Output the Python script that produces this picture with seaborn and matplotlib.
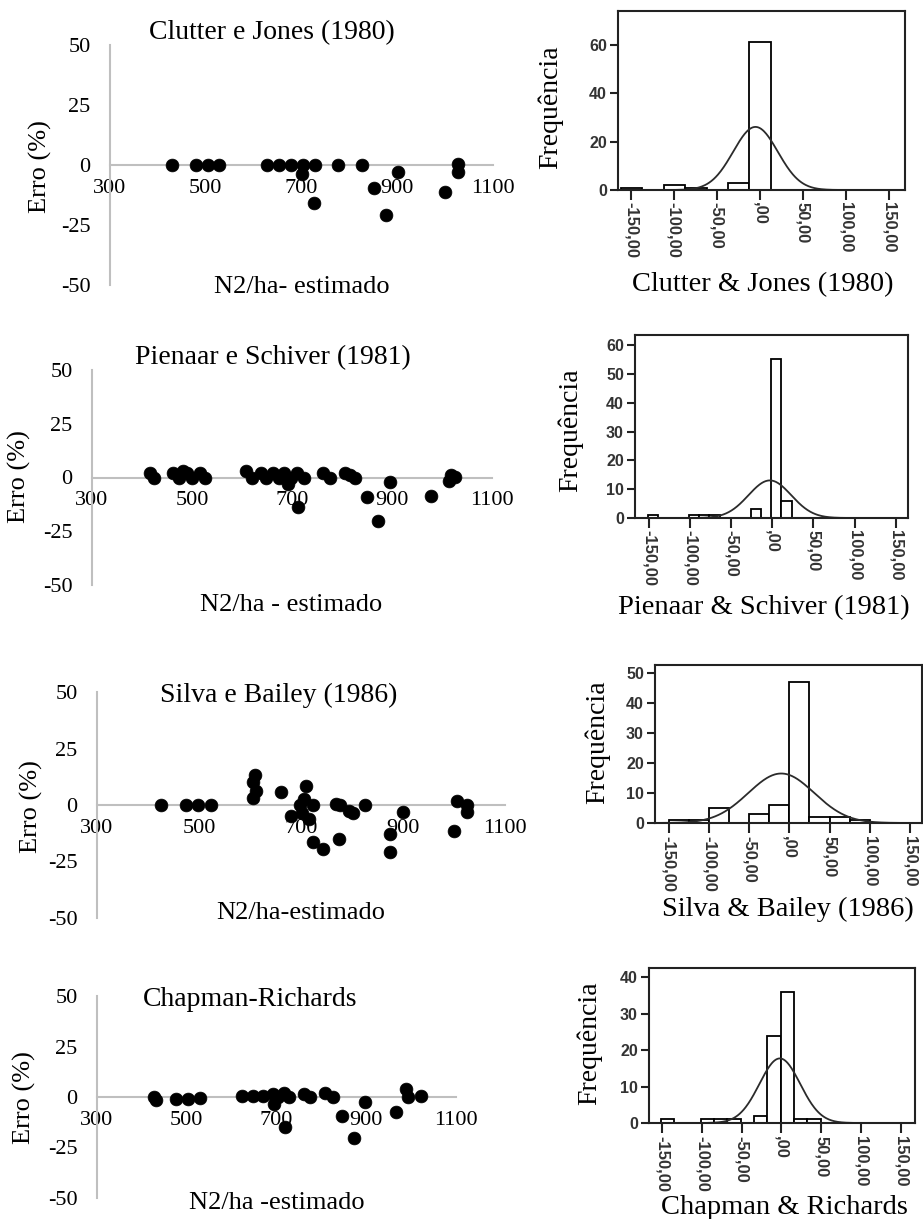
import numpy as np
import pandas as pd
import matplotlib
matplotlib.use("Agg")
import matplotlib.pyplot as plt
import seaborn as sns

W, H = 923, 1219

# ---- residual scatter data (N2/ha estimado, erro %) ----
CJ_X = [430, 479, 504, 528, 627, 653, 678, 703, 702, 728, 726, 777, 827, 852, 876, 902, 1000, 1026, 1026]
CJ_Y = [0, 0, 0, 0, 0, 0, 0, 0, -3.8, 0, -16, 0, 0, -9.7, -20.8, -2.8, -11.1, 0.3, -2.8]

PS_X = [415, 424, 462, 473, 482, 490, 500, 515, 525, 607, 620, 637, 647, 662, 673, 683, 691, 697,
        710, 712, 723, 762, 775, 805, 815, 825, 849, 872, 895, 978, 1013, 1017, 1025]
PS_Y = [2.3, 0, 1.9, 0, 3.1, 1.9, 0, 1.9, 0, 3.1, 0, 1.9, 0, 1.9, 0, 1.9, -2.8, 0,
        1.9, -13.9, 0, 1.9, 0, 2.3, 1.2, 0, -9.3, -20, -2.3, -8.5, -1.5, 1.2, 0.3]

SB_X = [426, 475, 499, 524, 605, 605, 610, 612, 661, 681, 698, 702, 705, 709, 716, 724, 723, 743,
        768, 775, 776, 794, 801, 825, 874, 875, 900, 1000, 1005, 1025, 1026]
SB_Y = [0, 0, 0, 0, 3, 10.1, 13.1, 6, 5.7, -4.8, 0, -3.7, 2.7, 8.3, -6.3, 0, -16.2, -19.6,
        0.4, -15.2, 0, -2.5, -3.7, 0, -13, -20.8, -3, -11.5, 1.9, 0, -3]

CR_X = [426, 432, 477, 503, 529, 624, 648, 670, 693, 694, 704, 716, 718, 728, 761, 774, 807, 825,
        847, 873, 898, 966, 988, 994, 1021]
CR_Y = [0, -1.7, -0.8, -0.8, -0.3, 0.5, 0.5, 0.5, 1.3, -3.3, 0, 2, -15, 0, 1.7, 0, 2, 0,
        -9.5, -20.5, -2.5, -7.5, 4.2, 0, 0.5]

SCATTER_TITLES = ["Clutter e Jones (1980)", "Pienaar e Schiver (1981)",
                  "Silva e Bailey (1986)", "Chapman-Richards"]
SCATTER_XLABELS = ["N2/ha- estimado", "N2/ha - estimado", "N2/ha-estimado", "N2/ha -estimado"]
X_TICKS = [300, 500, 700, 900, 1100]
Y_TICKS = [-50, -25, 0, 25, 50]

# ---- error histograms (bin start, bin width, counts) + normal fit ----
HIST_START = [-162, -151.5, -150, -151.75]
HIST_WIDTH = [25, 12.5, 25, 16.75]
HIST_COUNTS = [
    [1, 0, 2, 1, 0, 3, 61],
    [1, 0, 0, 0, 1, 1, 1, 0, 0, 0, 3, 0, 55, 6],
    [1, 1, 5, 0, 3, 6, 47, 2, 2, 1],
    [1, 0, 0, 1, 1, 1, 0, 2, 24, 36, 1, 1],
]
FIT_MEAN = [-5, -3, -10, -2]
FIT_SD = [26, 26, 41, 25.6]
HIST_YMAX = [74, 63.5, 52.8, 42.6]
HIST_YTICKS = [[0, 20, 40, 60], [0, 10, 20, 30, 40, 50, 60],
               [0, 10, 20, 30, 40, 50], [0, 10, 20, 30, 40]]
HIST_XTICKS = [-150, -100, -50, 0, 50, 100, 150]
HIST_XTICKLABELS = ["-150,00", "-100,00", "-50,00", ",00", "50,00", "100,00", "150,00"]
HIST_CAPTIONS = ["Clutter & Jones (1980)", "Pienaar & Schiver (1981)",
                 "Silva & Bailey (1986)", "Chapman & Richards"]

# layout in pixels (x0, y0, x1, y1)
SC_BOX = [(110, 45, 493, 285), (92, 370, 492, 585), (97, 692, 505, 918), (97, 996, 456, 1198)]
SC_TITLE_POS = [(272, 33), (273, 358), (279, 695), (250, 1000)]
SC_XLAB_POS = [(302, 287), (291, 605), (301, 913), (277, 1203)]
SC_YLAB_POS = [(40, 167), (19, 477), (31, 807), (24, 1098)]
HI_BOX = [(618, 11, 905, 190), (635, 335, 908, 518), (655, 665, 922, 823), (649, 968, 915, 1123)]
HI_XLIM = [(-165, 169), (-167, 165), (-167, 165), (-166.5, 168)]
HI_CAP_POS = [(763, 285), (764, 608), (788, 909), (784, 1207)]
HI_YLAB_POS = [(550, 107), (570, 430), (597, 742), (589, 1043)]

sns.set_theme(style="white")
plt.rcParams["font.family"] = ["Liberation Serif", "DejaVu Serif"]
plt.rcParams["axes.unicode_minus"] = False
plt.rcParams["text.color"] = "black"

GRAY = "#bfbfbf"
SANS = ["Liberation Sans", "DejaVu Sans"]


def add_px_axes(fig, box):
    x0, y0, x1, y1 = box
    return fig.add_axes([x0 / W, 1 - y1 / H, (x1 - x0) / W, (y1 - y0) / H])


def px_text(fig, pos, s, **kw):
    fig.text(pos[0] / W, 1 - pos[1] / H, s, ha="center", va="center", color="black", **kw)


def draw_scatter(ax, xs, ys):
    sns.scatterplot(x=xs, y=ys, ax=ax, color="black", s=85, edgecolor="black",
                    linewidth=0.5, zorder=3, clip_on=False)
    ax.set_xlim(300, 1100)
    ax.set_ylim(-50, 50)
    ax.set_xticks(X_TICKS)
    ax.set_yticks(Y_TICKS)
    for side in ["top", "right"]:
        ax.spines[side].set_visible(False)
    ax.spines["bottom"].set_position(("data", 0))
    for side in ["left", "bottom"]:
        ax.spines[side].set_color(GRAY)
        ax.spines[side].set_linewidth(1.5)
    ax.tick_params(axis="both", colors=GRAY, labelcolor="black", labelsize=16,
                   direction="out", length=5, width=1.2)
    ax.tick_params(axis="x", pad=5)
    ax.tick_params(axis="y", pad=9)
    ax.set_xlabel("")
    ax.set_ylabel("")
    ax.patch.set_alpha(0)


def draw_hist(ax, i):
    counts = HIST_COUNTS[i]
    edges = [HIST_START[i] + HIST_WIDTH[i] * k for k in range(len(counts) + 1)]
    df = pd.DataFrame({
        "centre": [(edges[k] + edges[k + 1]) / 2 for k in range(len(counts))],
        "count": counts,
    })
    sns.histplot(data=df, x="centre", weights="count", bins=edges, ax=ax,
                 stat="count", color="white", edgecolor="black", linewidth=1.3, alpha=1)
    n = sum(counts)
    xs = np.linspace(HI_XLIM[i][0], HI_XLIM[i][1], 400)
    ys = n * HIST_WIDTH[i] / (FIT_SD[i] * np.sqrt(2 * np.pi)) * \
        np.exp(-0.5 * ((xs - FIT_MEAN[i]) / FIT_SD[i]) ** 2)
    sns.lineplot(x=xs, y=ys, ax=ax, color="#2b2b2b", linewidth=1.3)
    ax.set_xlim(*HI_XLIM[i])
    ax.set_ylim(0, HIST_YMAX[i])
    ax.set_xticks(HIST_XTICKS)
    ax.set_xticklabels(HIST_XTICKLABELS, rotation=-90, family=SANS,
                       fontweight="bold", color="#333333", fontsize=12)
    ax.set_yticks(HIST_YTICKS[i])
    ax.set_yticklabels([str(t) for t in HIST_YTICKS[i]], family=SANS,
                       fontweight="bold", color="#333333", fontsize=11.5)
    for sp in ax.spines.values():
        sp.set_color("#222222")
        sp.set_linewidth(1.5)
    ax.tick_params(axis="x", direction="out", length=7, width=1.5, color="#222222",
                   bottom=True, pad=2)
    ax.tick_params(axis="y", direction="out", length=6, width=1.5, color="#222222",
                   left=True, pad=2)
    ax.set_xlabel("")
    ax.set_ylabel("")


fig = plt.figure(figsize=(W / 100, H / 100), dpi=100)

scatter_sets = [(CJ_X, CJ_Y), (PS_X, PS_Y), (SB_X, SB_Y), (CR_X, CR_Y)]
for i, (xs, ys) in enumerate(scatter_sets):
    ax = add_px_axes(fig, SC_BOX[i])
    draw_scatter(ax, xs, ys)
    px_text(fig, SC_TITLE_POS[i], SCATTER_TITLES[i], fontsize=20)
    px_text(fig, SC_XLAB_POS[i], SCATTER_XLABELS[i], fontsize=19)
    px_text(fig, SC_YLAB_POS[i], "Erro (%)", fontsize=19, rotation=90)

for i in range(4):
    ax = add_px_axes(fig, HI_BOX[i])
    draw_hist(ax, i)
    px_text(fig, HI_CAP_POS[i], HIST_CAPTIONS[i], fontsize=20.5)
    px_text(fig, HI_YLAB_POS[i], "Frequência", fontsize=20, rotation=90)

fig.savefig("out.png", dpi=100, facecolor="white")
